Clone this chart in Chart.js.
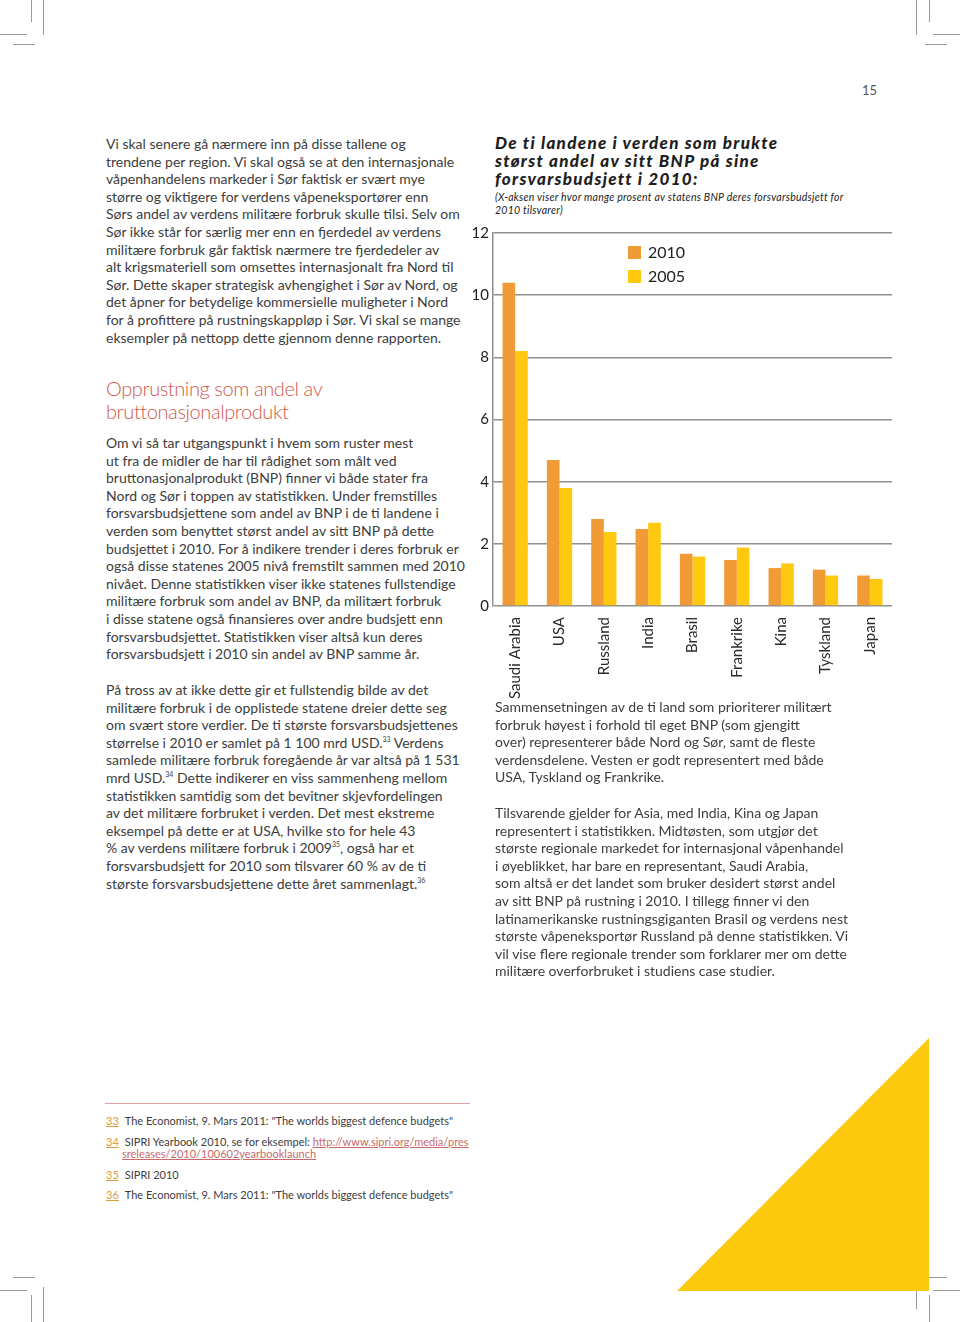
<!DOCTYPE html>
<html>
<head>
<meta charset="utf-8">
<script src="https://cdn.jsdelivr.net/npm/chart.js@4"></script>
<style>
  html,body{margin:0;padding:0;background:#fff;}
  body{width:960px;height:1322px;position:relative;overflow:hidden;font-family:"Lato",sans-serif;color:#3d3d3d;}
  .abs{position:absolute;}
  .txt{font-size:14px;line-height:17.6px;white-space:nowrap;font-weight:400;}
  .txt sup{font-size:7px;line-height:0;vertical-align:6px;}
  .head{font-size:20px;line-height:23px;letter-spacing:-0.4px;color:#d0594a;white-space:nowrap;font-weight:300;}
  .title div{height:18px;font-size:17px;line-height:18px;letter-spacing:1.3px;font-weight:900;font-style:italic;color:#1e1e1e;white-space:nowrap;}
  .sub{font-size:10.5px;line-height:13px;letter-spacing:0.25px;font-style:italic;color:#222;white-space:nowrap;}
  .fn{font-size:11px;line-height:12px;white-space:nowrap;color:#3d3d3d;}
  .fn .n{color:#e39a3b;text-decoration:underline;margin-right:6px;}
  .fn a{color:#c86a6a;text-decoration:underline;}
  .mark{position:absolute;background:#9a9a9a;}
  #chartBox{position:absolute;left:460px;top:220px;width:432px;height:482px;}
</style>
</head>
<body>

<!-- crop marks -->
<div class="mark" style="left:43px;top:0;width:1px;height:35px"></div>
<div class="mark" style="left:31px;top:0;width:1px;height:22px"></div>
<div class="mark" style="left:0;top:34px;width:27px;height:1px"></div>
<div class="mark" style="left:13px;top:44px;width:22px;height:1px"></div>
<div class="mark" style="left:916px;top:0;width:1px;height:35px"></div>
<div class="mark" style="left:929px;top:0;width:1px;height:22px"></div>
<div class="mark" style="left:933px;top:34px;width:27px;height:1px"></div>
<div class="mark" style="left:925px;top:44px;width:22px;height:1px"></div>
<div class="mark" style="left:43px;top:1287px;width:1px;height:35px"></div>
<div class="mark" style="left:31px;top:1295px;width:1px;height:27px"></div>
<div class="mark" style="left:0;top:1290px;width:27px;height:1px"></div>
<div class="mark" style="left:13px;top:1277px;width:22px;height:1px"></div>
<div class="mark" style="left:916px;top:1287px;width:1px;height:22px"></div>
<div class="mark" style="left:929px;top:1295px;width:1px;height:27px"></div>
<div class="mark" style="left:933px;top:1290px;width:27px;height:1px"></div>
<div class="mark" style="left:925px;top:1277px;width:22px;height:1px"></div>

<div class="abs" style="left:862px;top:82px;font-size:13px;color:#555">15</div>

<!-- left column -->
<div class="abs txt" style="left:106px;top:135px">
Vi skal senere gå nærmere inn på disse tallene og<br>
trendene per region. Vi skal også se at den internasjonale<br>
våpenhandelens markeder i Sør faktisk er svært mye<br>
større og viktigere for verdens våpeneksportører enn<br>
Sørs andel av verdens militære forbruk skulle tilsi. Selv om<br>
Sør ikke står for særlig mer enn en fjerdedel av verdens<br>
militære forbruk går faktisk nærmere tre fjerdedeler av<br>
alt krigsmateriell som omsettes internasjonalt fra Nord til<br>
Sør. Dette skaper strategisk avhengighet i Sør av Nord, og<br>
det åpner for betydelige kommersielle muligheter i Nord<br>
for å profittere på rustningskappløp i Sør. Vi skal se mange<br>
eksempler på nettopp dette gjennom denne rapporten.
</div>

<div class="abs head" style="left:106px;top:377px">
Opprustning som andel av<br>bruttonasjonalprodukt
</div>

<div class="abs txt" style="left:106px;top:434px">
Om vi så tar utgangspunkt i hvem som ruster mest<br>
ut fra de midler de har til rådighet som målt ved<br>
bruttonasjonalprodukt (BNP) finner vi både stater fra<br>
Nord og Sør i toppen av statistikken. Under fremstilles<br>
forsvarsbudsjettene som andel av BNP i de ti landene i<br>
verden som benyttet størst andel av sitt BNP på dette<br>
budsjettet i 2010. For å indikere trender i deres forbruk er<br>
også disse statenes 2005 nivå fremstilt sammen med 2010<br>
nivået. Denne statistikken viser ikke statenes fullstendige<br>
militære forbruk som andel av BNP, da militært forbruk<br>
i disse statene også finansieres over andre budsjett enn<br>
forsvarsbudsjettet. Statistikken viser altså kun deres<br>
forsvarsbudsjett i 2010 sin andel av BNP samme år.
</div>

<div class="abs txt" style="left:106px;top:681px">
På tross av at ikke dette gir et fullstendig bilde av det<br>
militære forbruk i de opplistede statene dreier dette seg<br>
om svært store verdier. De ti største forsvarsbudsjettenes<br>
størrelse i 2010 er samlet på 1 100 mrd USD.<sup>33</sup> Verdens<br>
samlede militære forbruk foregående år var altså på 1 531<br>
mrd USD.<sup>34</sup> Dette indikerer en viss sammenheng mellom<br>
statistikken samtidig som det bevitner skjevfordelingen<br>
av det militære forbruket i verden. Det mest ekstreme<br>
eksempel på dette er at USA, hvilke sto for hele 43<br>
% av verdens militære forbruk i 2009<sup>35</sup>, også har et<br>
forsvarsbudsjett for 2010 som tilsvarer 60 % av de ti<br>
største forsvarsbudsjettene dette året sammenlagt.<sup>36</sup>
</div>

<!-- right column -->
<div class="abs title" style="left:495px;top:134px">
<div>De ti landene i verden som brukte</div>
<div>størst andel av sitt BNP på sine</div>
<div>forsvarsbudsjett i 2010:</div>
</div>
<div class="abs sub" style="left:495px;top:191px">
(X-aksen viser hvor mange prosent av statens BNP deres forsvarsbudsjett for<br>
2010 tilsvarer)
</div>

<div id="chartBox"><canvas id="chart"></canvas></div>

<div class="abs txt" style="left:495px;top:698px">
Sammensetningen av de ti land som prioriterer militært<br>
forbruk høyest i forhold til eget BNP (som gjengitt<br>
over) representerer både Nord og Sør, samt de fleste<br>
verdensdelene. Vesten er godt representert med både<br>
USA, Tyskland og Frankrike.
</div>

<div class="abs txt" style="left:495px;top:804px">
Tilsvarende gjelder for Asia, med India, Kina og Japan<br>
representert i statistikken. Midtøsten, som utgjør det<br>
største regionale markedet for internasjonal våpenhandel<br>
i øyeblikket, har bare en representant, Saudi Arabia,<br>
som altså er det landet som bruker desidert størst andel<br>
av sitt BNP på rustning i 2010. I tillegg finner vi den<br>
latinamerikanske rustningsgiganten Brasil og verdens nest<br>
største våpeneksportør Russland på denne statistikken. Vi<br>
vil vise flere regionale trender som forklarer mer om dette<br>
militære overforbruket i studiens case studier.
</div>

<!-- footnotes -->
<div class="abs" style="left:105px;top:1103px;width:365px;height:1px;background:#e5a0a0"></div>
<div class="abs fn" style="left:106px;top:1115px"><span class="n">33</span>The Economist, 9. Mars 2011: "The worlds biggest defence budgets"</div>
<div class="abs fn" style="left:106px;top:1136px"><span class="n">34</span>SIPRI Yearbook 2010, se for eksempel: <a>http://www.sipri.org/media/pres</a><br>
<span style="margin-left:16px"><a>sreleases/2010/100602yearbooklaunch </a></span></div>
<div class="abs fn" style="left:106px;top:1169px"><span class="n">35</span>SIPRI 2010</div>
<div class="abs fn" style="left:106px;top:1189px"><span class="n">36</span>The Economist, 9. Mars 2011: "The worlds biggest defence budgets"</div>

<!-- decorative triangle -->
<svg class="abs" style="left:0;top:0" width="960" height="1322">
  <polygon points="677,1291 929,1291 929,1038" fill="#fdc90c"/>
</svg>

<script>
const countries = ['Saudi Arabia', 'USA', 'Russland', 'India', 'Brasil', 'Frankrike', 'Kina', 'Tyskland', 'Japan'];
const share2010 = [10.4, 4.7, 2.8, 2.48, 1.68, 1.48, 1.22, 1.17, 0.98];
const share2005 = [8.2, 3.8, 2.38, 2.68, 1.59, 1.88, 1.37, 0.98, 0.87];
const seriesLabels = ['2010', '2005'];
const seriesColors = ['#f19b36', '#fec90e'];
const yMin = 0, yMax = 12, yStep = 2;

// legend sits inside the plot, top middle
const insideLegend = {
  id: 'insideLegend',
  afterDraw(chart) {
    const ctx = chart.ctx, area = chart.chartArea;
    ctx.save();
    ctx.font = '16px Lato';
    ctx.textBaseline = 'middle';
    chart.data.datasets.forEach((ds, i) => {
      const x = area.left + 135, y = area.top + 13 + i * 24;
      ctx.fillStyle = ds.backgroundColor;
      ctx.fillRect(x, y, 13, 13);
      ctx.fillStyle = '#222';
      ctx.fillText(ds.label, x + 20, y + 6.5);
    });
    ctx.restore();
  }
};

new Chart(document.getElementById('chart'), {
  type: 'bar',
  data: {
    labels: countries,
    datasets: [
      { label: seriesLabels[0], data: share2010, backgroundColor: seriesColors[0] },
      { label: seriesLabels[1], data: share2005, backgroundColor: seriesColors[1] }
    ]
  },
  options: {
    responsive: true,
    maintainAspectRatio: false,
    animation: false,
    layout: { padding: { top: 2, right: 0, left: 0, bottom: 0 } },
    datasets: { bar: { categoryPercentage: 0.57, barPercentage: 1 } },
    plugins: { legend: { display: false }, tooltip: { enabled: false } },
    scales: {
      x: {
        afterFit(s) { s.height = 96; },
        grid: { display: false },
        border: { display: false },
        ticks: {
          minRotation: 90, maxRotation: 90, autoSkip: false, padding: 3,
          color: '#2a2a2a', font: { family: 'Lato', size: 15 }
        }
      },
      y: {
        min: yMin, max: yMax,
        afterFit(s) { s.width = 33; },
        grid: { color: '#8f8f8f', lineWidth: 1.5, drawTicks: false },
        border: { color: '#8f8f8f', width: 1.5 },
        ticks: {
          stepSize: yStep, padding: 4, color: '#1e1e1e',
          font: { family: 'Lato', size: 15 }
        }
      }
    }
  },
  plugins: [insideLegend]
});
</script>
</body>
</html>
